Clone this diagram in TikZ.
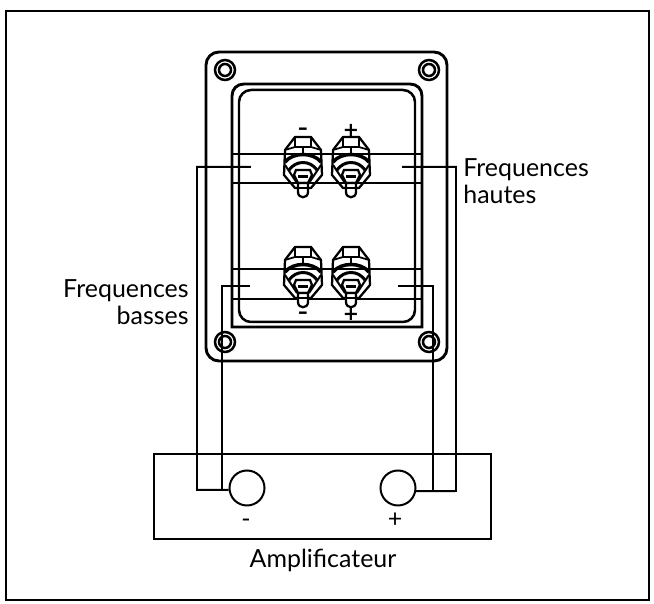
\documentclass[tikz,border=0pt]{standalone}
\usepackage{fontspec}
\setmainfont{Lato}
\newfontfamily\signfont{DejaVu Sans}
\tikzset{
    wire/.style={line width=0.04cm},
    boxline/.style={line width=0.05cm},
    panelline/.style={line width=0.058cm},
    caption/.style={font=\fontsize{14.2}{15.3}\selectfont, inner sep=0pt},
    sign/.style={font=\signfont\bfseries\fontsize{11}{11}\selectfont, inner sep=0pt, anchor=base},
    post/.pic={
        % Upper nut
        \draw[line width=0.045cm, line join=round] (-8,-18) -- (8,-18) -- (18,-5) -- (19,20) -- (8,33) -- (-8,33) -- (-19,20) -- (-18,-5) -- cycle;
        \draw[line width=0.035cm] (-18,-5) -- (-8,-8) -- (-8,-18) (8,-18) -- (8,-8) -- (18,-5) (-8,-8) -- (8,-8) (0,-8) -- (0,0);
        \draw[line width=0.07cm] (-18,7) .. controls (-10,-3) and (10,-3) .. (18,7);
        \draw[line width=0.06cm] (-14,15) .. controls (-7,5) and (7,5) .. (14,15);
        \draw[line width=0.04cm] (-18,10) -- (-6,28) (18,10) -- (6,28);
        % Collar and tip
        \draw[line width=0.045cm, fill=white] (-7,15) -- (7,15) -- (9,20) -- (5,28) -- (-5,28) -- (-9,20) -- cycle;
        \draw[line width=0.06cm] (-5,22) -- (5,22);
        \draw[line width=0.045cm, fill=white] (-5,28) -- (-5,37) .. controls (-5,44) and (5,44) .. (5,37) -- (5,28) -- cycle;
        \draw[line width=0.035cm] (-5,33) -- (5,33);
    },
}
\begin{document}
\begin{tikzpicture}[x=0.02cm, y=-0.02cm]
    \useasboundingbox (0,0) rectangle (654,604);
    % Page frame
    \node[draw, boxline, minimum width=12.87cm, minimum height=11.78cm, inner sep=0pt] (Page) at (327.5,305.5) {};

    % Panel
    \draw[panelline, rounded corners=0.26cm] (206,52) rectangle (447,361);
    \draw[panelline] (232,327) -- (232,96) .. controls (232,89) and (237,84) .. (244,84) -- (410,84) .. controls (417,84) and (422,89) .. (422,96) -- (422,327) -- cycle;
    \draw[boxline, rounded corners=0.24cm] (239,90) rectangle (415,322);

    % Screws
    \foreach \i/\x/\y in {1/225/70, 2/429/70, 3/225/342, 4/429/342}
    {
        \node[draw, circle, boxline, minimum size=0.40cm, inner sep=0pt] (Screw-\i) at (\x,\y) {};
        \node[draw, circle, boxline, minimum size=0.24cm, inner sep=0pt] (ScrewIn-\i) at (\x,\y) {};
    }

    % Bands
    \foreach \i/\y in {1/154, 2/183, 3/269, 4/299}
    {
        \coordinate (BandL-\i) at (232,\y);
        \coordinate (BandR-\i) at (422,\y);
        \draw[wire] (BandL-\i) -- (BandR-\i);
    }

    % Terminals
    \foreach \x in {303,351}
    {
        \pic at (\x,155) {post};
        \pic at (\x,265) {post};
    }

    % Terminal signs
    \node[sign] (MinusHigh) at (303,135) {–};
    \node[sign] (PlusHigh) at (351,137) {+};
    \node[sign] (MinusLow) at (303,319) {–};
    \node[sign] (PlusLow) at (351,321) {+};

    % Amplifier
    \node[draw, boxline, minimum width=6.74cm, minimum height=1.70cm, inner sep=0pt] (Amp) at (322.5,496.5) {};
    \node[draw, circle, wire, minimum size=0.70cm, inner sep=0pt] (OutMinus) at (247,488) {};
    \node[draw, circle, wire, minimum size=0.70cm, inner sep=0pt] (OutPlus) at (398,488) {};
    \node[caption] (SignMinus) at (246,523) {-};
    \node[caption] (SignPlus) at (395,520) {+};
    \node[caption] (AmpText) at (323,560) {Amplificateur};

    % Wire ends
    \coordinate (HighL) at (251,167);
    \coordinate (LowL) at (250,286);
    \coordinate (HighR) at (402,167);
    \coordinate (LowR) at (398,286);

    % Connections
    \draw[wire] (HighL) -- (197,167) -- (197,490) -- (OutMinus.186);
    \draw[wire] (LowL) -- (222,286) -- (222,490);
    \draw[wire] (HighR) -- (456,167) -- (456,491) -- (OutPlus.-10);
    \draw[wire] (LowR) -- (433,286) -- (433,491);

    % Labels
    \node[caption, align=left, anchor=west] (High) at (463,181) {Frequences\\hautes};
    \node[caption, align=right, anchor=east] (Low) at (189,302) {Frequences\\basses};
\end{tikzpicture}
\end{document}
